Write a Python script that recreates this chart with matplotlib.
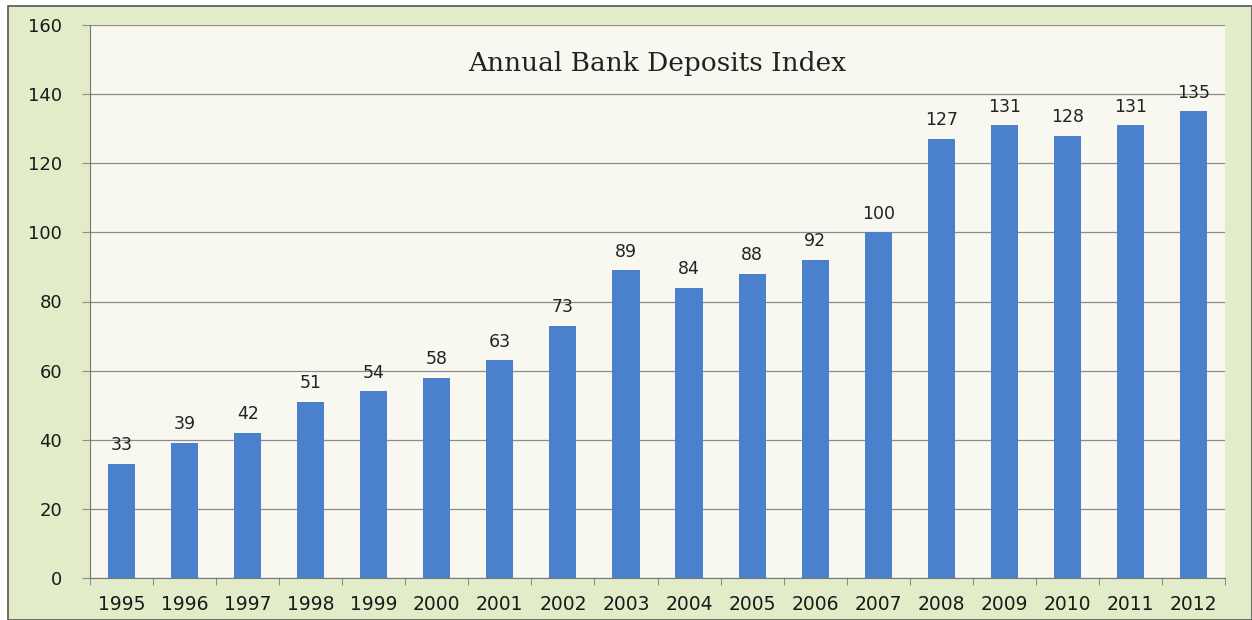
import matplotlib.pyplot as plt
from matplotlib.patches import Rectangle

years = ['1995', '1996', '1997', '1998', '1999', '2000', '2001', '2002', '2003',
         '2004', '2005', '2006', '2007', '2008', '2009', '2010', '2011', '2012']
index_values = [33, 39, 42, 51, 54, 58, 63, 73, 89, 84, 88, 92, 100, 127, 131, 128, 131, 135]
y_ticks = [0, 20, 40, 60, 80, 100, 120, 140, 160]

bar_color = '#4a80cc'
label_font = 'DejaVu Sans'

fig = plt.figure(figsize=(12.52, 6.2), dpi=100)
fig.patch.set_facecolor('white')

# outer green frame of the chart object
frame = Rectangle((8 / 1252, 0), 1 - 8 / 1252, 1 - 6 / 620, transform=fig.transFigure,
                  facecolor='#e2ecc8', edgecolor='#555555', linewidth=1.2, zorder=-10)
fig.patches.append(frame)

ax = fig.add_axes([90 / 1252, 42 / 620, 1135 / 1252, 553 / 620])
ax.set_facecolor('#f8f8f1')

x = range(len(years))
ax.bar(x, index_values, width=0.43, color=bar_color, zorder=3)

for xi, v in zip(x, index_values):
    ax.annotate(str(v), (xi, v), xytext=(0, 7), textcoords='offset points',
                ha='center', va='bottom', fontsize=12.5, family=label_font, color='#222222')

ax.set_xlim(-0.5, len(years) - 0.5)
ax.set_ylim(0, 160)
ax.set_yticks(y_ticks)
ax.set_yticklabels([str(t) for t in y_ticks], family=label_font, fontsize=13)
ax.set_xticks(list(x))
ax.set_xticklabels(years, family=label_font, fontsize=13.5)
ax.set_xticks([i - 0.5 for i in range(len(years) + 1)], minor=True)

ax.grid(axis='y', color='#8c8c8c', linewidth=0.9, zorder=0)
ax.tick_params(axis='x', which='major', length=0, pad=12, colors='#1a1a1a')
ax.tick_params(axis='x', which='minor', length=5, color='#777777', direction='out')
ax.tick_params(axis='y', length=6, color='#8c8c8c', pad=14, labelcolor='#1a1a1a')

for side in ['top', 'right']:
    ax.spines[side].set_visible(False)
ax.spines['left'].set_color('#777777')
ax.spines['bottom'].set_color('#777777')

ax.text(0.5, 0.93, 'Annual Bank Deposits Index', transform=ax.transAxes,
        ha='center', va='center', fontsize=19, family='DejaVu Serif', color='#222222')

fig.savefig('out.png', dpi=100)
